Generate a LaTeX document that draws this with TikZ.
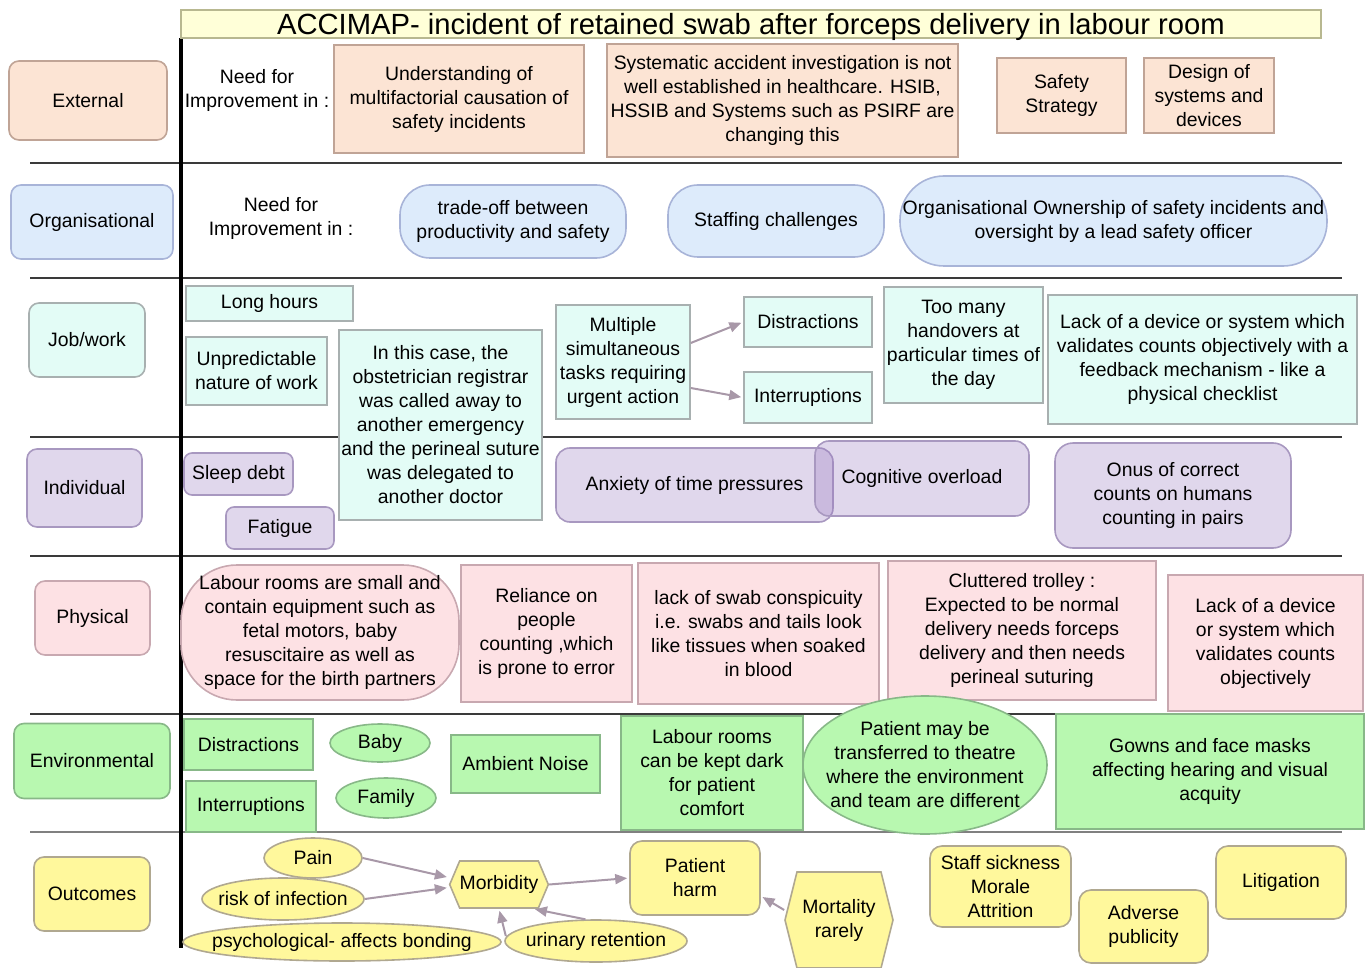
\documentclass[tikz,border=0pt]{standalone}
\usepackage{fontspec}
\setmainfont{Liberation Sans}
\usetikzlibrary{arrows.meta,shapes.geometric,shapes.symbols}
\definecolor{ttlfill}{HTML}{FFFFD8}
\definecolor{ttldraw}{HTML}{B8B890}
\definecolor{extfill}{HTML}{FCE4D4}
\definecolor{extdraw}{HTML}{C0A496}
\definecolor{orgfill}{HTML}{DDEBFB}
\definecolor{orgdraw}{HTML}{A8B4D8}
\definecolor{jobfill}{HTML}{E3FCF6}
\definecolor{jobdraw}{HTML}{A8B0B0}
\definecolor{indfill}{HTML}{E0D7EC}
\definecolor{indglass}{RGB}{152,122,192}
\definecolor{inddraw}{HTML}{A898C0}
\definecolor{phyfill}{HTML}{FDE1E4}
\definecolor{phydraw}{HTML}{C8A8B0}
\definecolor{envfill}{HTML}{B8F8B0}
\definecolor{envdraw}{HTML}{88B888}
\definecolor{outfill}{HTML}{FFF89C}
\definecolor{outdraw}{HTML}{B0A890}
\definecolor{arrowc}{HTML}{A898A8}
\definecolor{rule}{HTML}{3A3A3A}

\begin{document}
\begin{tikzpicture}[x=0.5pt,y=-0.5pt,>={Triangle[length=6pt,width=5pt]},semithick,
                    font=\fontsize{9.7}{12}\selectfont,
                    every node/.style={align=center,inner sep=1pt}]
  \tikzstyle{ext}=[draw=extdraw,fill=extfill,line width=0.8pt]
  \tikzstyle{org}=[draw=orgdraw,fill=orgfill,line width=0.8pt]
  \tikzstyle{job}=[draw=jobdraw,fill=jobfill,line width=0.8pt]
  \tikzstyle{ind}=[draw=inddraw,fill=indfill,line width=0.8pt]
  \tikzstyle{phy}=[draw=phydraw,fill=phyfill,line width=0.8pt]
  \tikzstyle{env}=[draw=envdraw,fill=envfill,line width=0.8pt]
  \tikzstyle{outc}=[draw=outdraw,fill=outfill,line width=0.8pt]
  \tikzstyle{lvl}=[rounded corners=5pt]
  \tikzstyle{rbox}=[rounded corners=7pt]
  \tikzstyle{oval}=[ellipse,inner xsep=-12pt,inner ysep=0pt]
  \tikzstyle{hexa}=[signal,signal to=west and east,inner sep=0pt]
  \tikzstyle{link}=[->,draw=arrowc,fill=arrowc,line width=1pt,shorten >=1pt]

  \useasboundingbox (0,0) rectangle (1370,968);

  \foreach \y in {163,278,437,556,714}
    \draw[rule,line width=0.8pt] (30,\y) -- (1342,\y);
  \draw[gray,line width=1.2pt] (30,832) -- (1342,832);
  \draw[black,line width=2pt] (181,38) -- (181,948);

  \node[draw=ttldraw,fill=ttlfill,line width=0.8pt,minimum width=570pt,text height=11.5pt,text depth=0.5pt,
        font=\fontsize{14.6}{16}\selectfont] (title) at (751,24)
        {ACCIMAP- incident of retained swab after forceps delivery in labour room};

  \node[ext,lvl,minimum width=79pt,minimum height=39.5pt] (external) at (88,100.5) {External};
  \node[org,lvl,minimum width=81pt,minimum height=37pt] (organisational) at (92,222) {Organisational};
  \node[job,lvl,minimum width=58pt,minimum height=37pt] (jobwork) at (87,340) {Job/work};
  \node[ind,lvl,minimum width=57.5pt,minimum height=39pt] (individual) at (84.5,488) {Individual};
  \node[phy,lvl,minimum width=57.5pt,minimum height=37pt] (physical) at (92.5,618) {Physical};
  \node[env,lvl,minimum width=78pt,minimum height=37.5pt] (environmental) at (92,761) {Environmental};
  \node[outc,lvl,minimum width=58pt,minimum height=37pt] (outcomes) at (92,894) {Outcomes};

  \node (needext) at (257,90.5) {Need for\\Improvement in :};
  \node[ext,minimum width=125pt,minimum height=54pt] (understand) at (459,99)
        {Understanding of\\multifactorial causation of\\safety incidents};
  \node[ext,minimum width=175.5pt,minimum height=56.5pt] (sysinvest) at (782.5,100.5)
        {Systematic accident investigation is not\\well established in healthcare. HSIB,\\HSSIB and Systems such as PSIRF are\\changing this};
  \node[ext,minimum width=64.5pt,minimum height=37.5pt] (strategy) at (1061.5,95.5) {Safety\\Strategy};
  \node[ext,minimum width=65pt,minimum height=37.5pt] (design) at (1209,95.5) {Design of\\systems and\\devices};

  \node (needorg) at (281,218.5) {Need for\\Improvement in :};
  \node[org,rounded corners=15pt,minimum width=113pt,minimum height=36.5pt] (tradeoff) at (513,221.5)
        {trade-off between\\productivity and safety};
  \node[org,rounded corners=15pt,minimum width=108pt,minimum height=36pt] (staffing) at (776,221)
        {Staffing challenges};
  \node[org,rounded corners=22pt,minimum width=213.5pt,minimum height=45pt] (ownership) at (1113.5,221)
        {Organisational Ownership of safety incidents and\\oversight by a lead safety officer};

  \node[job,minimum width=83.5pt,minimum height=17.5pt] (longhours) at (269.5,303.5) {Long hours};
  \node[job,minimum width=70.5pt,minimum height=34pt] (unpredictable) at (256.5,371) {Unpredictable\\nature of work};
  \node[job,minimum width=101.5pt,minimum height=95pt] (thiscase) at (440.5,425)
        {In this case, the\\obstetrician registrar\\was called away to\\another emergency\\and the perineal suture\\was delegated to\\another doctor};
  \node[job,minimum width=67pt,minimum height=57pt] (multiple) at (623,362)
        {Multiple\\simultaneous\\tasks requiring\\urgent action};
  \node[job,minimum width=64pt,minimum height=25pt] (jdistract) at (808,322) {Distractions};
  \node[job,minimum width=64pt,minimum height=25.5pt] (jinterrupt) at (808,397.5) {Interruptions};
  \node[job,minimum width=79.5pt,minimum height=58pt] (handovers) at (963.5,345)
        {Too many\\handovers at\\particular times of\\the day};
  \node[job,minimum width=154.5pt,minimum height=64.5pt] (nofeedback) at (1202.5,359.5)
        {Lack of a device or system which\\validates counts objectively with a\\feedback mechanism - like a\\physical checklist};

  \node[ind,rounded corners=4pt,minimum width=54.5pt,minimum height=21pt] (sleepdebt) at (238.5,474) {Sleep debt};
  \node[ind,rounded corners=4pt,minimum width=54pt,minimum height=21pt] (fatigue) at (280,528) {Fatigue};
  \node[ind,rbox,minimum width=138.5pt,minimum height=37pt] (anxiety) at (694.5,485) {Anxiety of time pressures};
  \node[ind,rbox,fill=indglass,fill opacity=0.3,text opacity=1,minimum width=107pt,minimum height=37.5pt]
        (cognitive) at (922,478.5) {Cognitive overload};
  \node[ind,rounded corners=9pt,minimum width=118pt,minimum height=52.5pt] (onus) at (1173,495.5)
        {Onus of correct\\counts on humans\\counting in pairs};

  \node[phy,rounded corners=28pt,minimum width=139pt,minimum height=67.5pt] (smallrooms) at (320,632.5)
        {Labour rooms are small and\\contain equipment such as\\fetal motors, baby\\resuscitaire as well as\\space for the birth partners};
  \node[phy,minimum width=85.5pt,minimum height=68.5pt] (reliance) at (546.5,633.5)
        {Reliance on\\people\\counting ,which\\is prone to error};
  \node[phy,minimum width=120.5pt,minimum height=70.5pt] (conspicuity) at (758.5,633.5)
        {lack of swab conspicuity\\i.e. swabs and tails look\\like tissues when soaked\\in blood};
  \node[phy,minimum width=134pt,minimum height=69.5pt] (trolley) at (1022,630.5)
        {Cluttered trolley :\\Expected to be normal\\delivery needs forceps\\delivery and then needs\\perineal suturing};
  \node[phy,minimum width=97.5pt,minimum height=68pt] (nosystem) at (1265.5,643)
        {Lack of a device\\or system which\\validates counts\\objectively};

  \node[env,minimum width=64.5pt,minimum height=25.5pt] (edistract) at (248.5,744.5) {Distractions};
  \node[env,minimum width=65pt,minimum height=25.5pt] (einterrupt) at (251,806.5) {Interruptions};
  \node[env,oval,minimum width=50pt,minimum height=19pt] (baby) at (380,743) {Baby};
  \node[env,oval,minimum width=50pt,minimum height=20pt] (family) at (386,798) {Family};
  \node[env,minimum width=74.5pt,minimum height=29pt] (noise) at (525.5,764) {Ambient Noise};
  \node[env,minimum width=91pt,minimum height=57pt] (dark) at (712,773)
        {Labour rooms\\can be kept dark\\for patient\\comfort};
  \node[env,oval,minimum width=122pt,minimum height=69pt] (theatre) at (925,765)
        {Patient may be\\transferred to theatre\\where the environment\\and team are different};
  \node[env,minimum width=154pt,minimum height=57.5pt] (gowns) at (1210,771.5)
        {Gowns and face masks\\affecting hearing and visual\\acquity};

  \node[outc,oval,minimum width=49pt,minimum height=20pt] (pain) at (313,858) {Pain};
  \node[outc,oval,minimum width=81pt,minimum height=21pt] (infection) at (283,899) {risk of infection};
  \node[outc,oval,minimum width=159pt,minimum height=19pt] (bonding) at (342,942) {psychological- affects bonding};
  \node[outc,oval,minimum width=91pt,minimum height=21pt] (retention) at (596,941) {urinary retention};
  \node[outc,hexa,signal pointer angle=134,minimum width=45pt,minimum height=23.5pt] (morbidity) at (499,884.5) {Morbidity};
  \node[outc,rounded corners=6pt,minimum width=65pt,minimum height=37pt] (harm) at (695,878) {Patient\\harm};
  \node[outc,hexa,signal pointer angle=152,minimum width=54pt,minimum height=48pt] (mortality) at (839,920) {Mortality\\rarely};
  \node[outc,rounded corners=6pt,minimum width=70.5pt,minimum height=40.5pt] (staff) at (1000.5,886.5)
        {Staff sickness\\Morale\\Attrition};
  \node[outc,rounded corners=6pt,minimum width=64.5pt,minimum height=36.5pt] (publicity) at (1143.5,926.5) {Adverse\\publicity};
  \node[outc,rounded corners=6pt,minimum width=65pt,minimum height=36.5pt] (litigation) at (1281,882.5) {Litigation};

  \draw[link] ([yshift=9.5pt]multiple.east) -- (jdistract.west);
  \draw[link] ([yshift=-13pt]multiple.east) -- (jinterrupt.west);
  \draw[link] (pain.east) -- ([yshift=3.5pt]morbidity.west);
  \draw[link] (infection.east) -- ([yshift=-1.5pt]morbidity.west);
  \draw[link] ([xshift=2pt,yshift=3pt]bonding.east) -- (morbidity.south);
  \draw[link] (retention.116) -- ([xshift=17pt]morbidity.south);
  \draw[link] (morbidity.east) -- (harm.west);
  \draw[link] ([yshift=5pt]mortality.west) -- ([yshift=-9pt]harm.east);
\end{tikzpicture}
\end{document}
